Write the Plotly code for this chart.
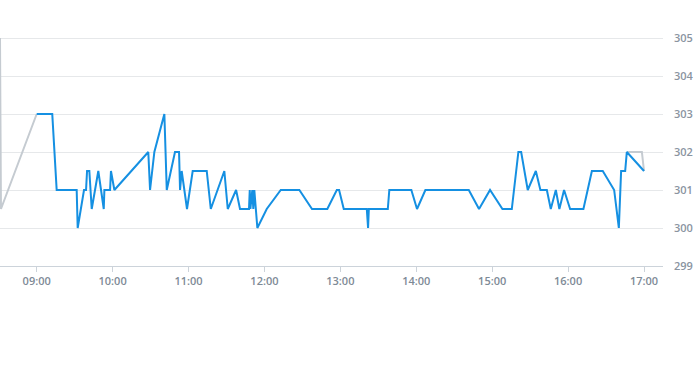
import plotly.graph_objects as go

# Main (blue) series
times = ["09:00", "09:12:18", "09:15:48", "09:31:36", "09:32:24", "09:37:24", "09:39:00", "09:39:48",
         "09:41:36", "09:43:30", "09:48:42", "09:53:00", "09:53:30", "09:58:00", "09:58:42", "10:01:24",
         "10:28:12", "10:29:36", "10:33:00", "10:40:54", "10:42:48", "10:49:18", "10:52:30", "10:53:18",
         "10:54:36", "10:58:48", "11:03:18", "11:14:24", "11:17:36", "11:28:18", "11:31:00", "11:37:36",
         "11:40:42", "11:47:48", "11:48:24", "11:48:54", "11:50:24", "11:51:12", "11:52:00", "11:54:24",
         "12:01:48", "12:12:54", "12:27:36", "12:37:36", "12:49:42", "12:57:12", "12:59:00", "13:02:42",
         "13:20:54", "13:21:54", "13:22:30", "13:37:30", "13:38:42", "13:56:06", "14:00:36", "14:07:12",
         "14:41:30", "14:49:36", "14:58:18", "15:08:06", "15:15:30", "15:20:42", "15:22:54", "15:28:06",
         "15:34:30", "15:38:06", "15:43:12", "15:46:18", "15:50:18", "15:53:06", "15:56:48", "16:01:36",
         "16:12:06", "16:18:48", "16:27:24", "16:36:24", "16:40:06", "16:41:54", "16:45:06", "16:46:24",
         "17:00:00"]
values = [303, 303, 301, 301, 300, 301, 301, 301.5,
          301.5, 300.5, 301.5, 300.5, 301, 301, 301.5, 301,
          302, 301, 302, 303, 301, 302, 302, 301,
          301.5, 300.5, 301.5, 301.5, 300.5, 301.5, 300.5, 301,
          300.5, 300.5, 301, 300.5, 301, 300.5, 301, 300,
          300.5, 301, 301, 300.5, 300.5, 301, 301, 300.5,
          300.5, 300, 300.5, 300.5, 301, 301, 300.5, 301,
          301, 300.5, 301, 300.5, 300.5, 302, 302, 301,
          301.5, 301, 301, 300.5, 301, 300.5, 301, 300.5,
          300.5, 301.5, 301.5, 301, 300, 301.5, 301.5, 302,
          301.5]

# Background (grey) series, only visible where it departs from the main one
grey_times = ["08:31:00", "08:31:45", "09:00:00"]
grey_values = [305, 300.5, 303]
grey_end_times = ["16:46:24", "16:58:18", "17:00:00"]
grey_end_values = [302, 302, 301.5]

hour_ticks = ["09:00", "10:00", "11:00", "12:00", "13:00", "14:00", "15:00", "16:00", "17:00"]
y_ticks = [299, 300, 301, 302, 303, 304, 305]

day = "2024-01-02 "
def ts(lst):
    out = []
    for t in lst:
        if t.count(":") == 1:
            t = t + ":00"
        out.append(day + t)
    return out

fig = go.Figure()
fig.add_trace(go.Scatter(x=ts(grey_times), y=grey_values, mode="lines",
                         line=dict(color="#c5cbd1", width=2), hoverinfo="skip"))
fig.add_trace(go.Scatter(x=ts(grey_end_times), y=grey_end_values, mode="lines",
                         line=dict(color="#c5cbd1", width=2), hoverinfo="skip"))
fig.add_trace(go.Scatter(x=ts(times), y=values, mode="lines",
                         line=dict(color="#1590e2", width=2)))

fig.update_layout(
    width=693, height=365,
    margin=dict(l=0, r=30, t=0, b=99, autoexpand=False),
    paper_bgcolor="white", plot_bgcolor="white",
    showlegend=False,
    font=dict(family="Open Sans", size=11, color="#8a949f"),
    xaxis=dict(
        type="date",
        range=[day + "08:31:00", day + "17:15:00"],
        tickvals=ts(hour_ticks), ticktext=hour_ticks,
        showgrid=False, zeroline=False,
        showline=True, linecolor="#ccd3da", linewidth=1,
        ticks="outside", ticklen=5, tickcolor="#ccd3da",
        tickfont=dict(size=11, color="#7e8a96", weight=600),
    ),
    yaxis=dict(
        side="right",
        range=[299, 306],
        tickvals=y_ticks, ticktext=[str(v) for v in y_ticks],
        showgrid=True, gridcolor="#e6e8ea", gridwidth=1,
        zeroline=False, showline=False, ticks="",
        ticklabelstandoff=10,
        tickfont=dict(size=11, color="#8a949f", weight=600),
    ),
)

fig.write_html("out.html", config={"displayModeBar": False},
               post_script="document.body.style.margin='0';")
